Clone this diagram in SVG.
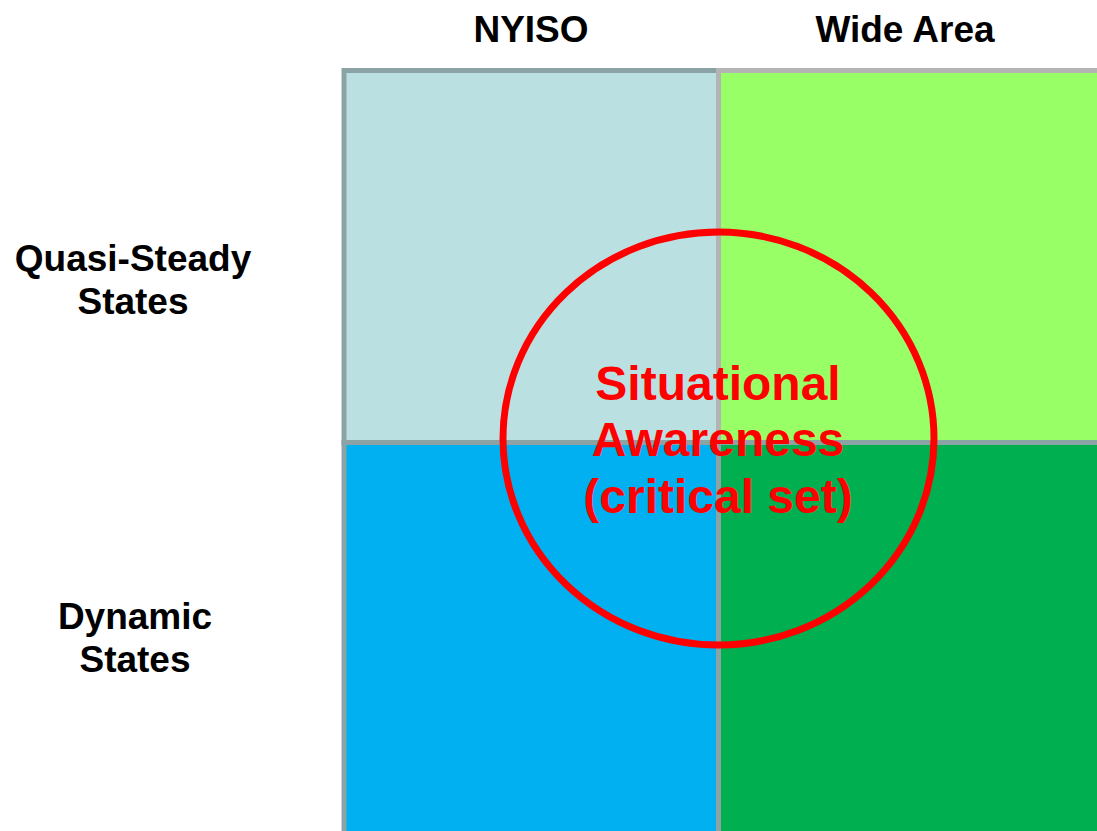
<svg xmlns="http://www.w3.org/2000/svg" width="1097" height="831" viewBox="0 0 1097 831">
<style>
.lbl{font-family:"Liberation Sans",Arial,sans-serif;font-weight:bold;font-size:37px;fill:#000;text-anchor:middle}
.sa{font-family:"Liberation Sans",Arial,sans-serif;font-weight:bold;font-size:48px;fill:#ff0000;text-anchor:middle}
.cell{stroke-width:5}
</style>
<rect width="1097" height="831" fill="#ffffff"/>
<g id="cell-nyiso-quasi"><rect class="cell" x="344" y="70.5" width="374.5" height="372" fill="#bae0e2" stroke="#8ca3a5"/></g>
<g id="cell-wide-quasi"><rect class="cell" x="718.5" y="70.5" width="400" height="372" fill="#99ff66" stroke="#b4b4b4"/></g>
<g id="cell-nyiso-dynamic"><rect class="cell" x="344" y="442.5" width="374.5" height="420" fill="#00b0f0" stroke="#8ca3a5"/></g>
<g id="cell-wide-dynamic"><rect class="cell" x="718.5" y="442.5" width="400" height="420" fill="#00b050" stroke="#8ca3a5"/></g>
<g id="headers">
<text class="lbl" x="531" y="42">NYISO</text>
<text class="lbl" x="905" y="42">Wide Area</text>
</g>
<g id="row-quasi"><text class="lbl" x="133" y="271">Quasi-Steady</text><text class="lbl" x="133" y="314">States</text></g>
<g id="row-dynamic"><text class="lbl" x="135" y="629">Dynamic</text><text class="lbl" x="135" y="672">States</text></g>
<g id="situational-awareness">
<ellipse cx="718.5" cy="438.5" rx="215.5" ry="206.5" fill="none" stroke="#ff0000" stroke-width="7"/>
<text class="sa" x="718" y="400">Situational</text>
<text class="sa" x="718" y="456">Awareness</text>
<text class="sa" x="718" y="513">(critical set)</text>
</g>
<g id="connectors"></g>
</svg>
